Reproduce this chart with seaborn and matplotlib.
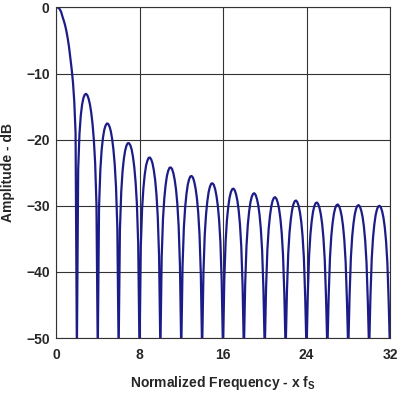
import numpy as np
import matplotlib
matplotlib.use('Agg')
import matplotlib.pyplot as plt
import seaborn as sns

# frequency grid, step 1/8 x fS
freq = np.arange(0, 32.125, 0.125)

# amplitude (dB); nulls drawn just below the axis floor
main_lobe = [0.0, 0.0, -0.05, -0.3, -0.7, -1.4, -2.0, -2.7, -3.6,
             -4.7, -6.0, -7.6, -9.3, -11.3, -14.2, -19.0, -52]
side_lobes = [
    [-24.5, -19.1, -16.3, -14.7, -13.7, -13.2, -13.06, -13.26, -13.8, -14.65, -15.9, -17.6, -20.0, -23.5, -29.7, -52],
    [-30.1, -24.5, -21.5, -19.7, -18.5, -17.85, -17.55, -17.6, -18.0, -18.7, -19.85, -21.45, -23.7, -27.15, -33.2, -52],
    [-33.6, -27.9, -24.8, -22.9, -21.65, -20.9, -20.53, -20.53, -20.85, -21.5, -22.6, -24.15, -26.4, -29.7, -35.7, -52],
    [-36.1, -30.4, -27.3, -25.3, -23.95, -23.2, -22.75, -22.7, -23.0, -23.6, -24.65, -26.1, -28.3, -31.65, -37.6, -52],
    [-37.8, -32.0, -28.9, -26.9, -25.5, -24.7, -24.25, -24.2, -24.45, -25.1, -26.1, -27.55, -29.7, -33.05, -39.0, -52],
    [-39.1, -33.3, -30.2, -28.2, -26.8, -26.0, -25.55, -25.5, -25.75, -26.4, -27.4, -28.85, -31.0, -34.35, -40.3, -52],
    [-40.2, -34.4, -31.3, -29.3, -27.9, -27.1, -26.65, -26.6, -26.85, -27.5, -28.5, -29.95, -32.1, -35.45, -41.4, -52],
    [-41.2, -35.4, -32.2, -30.2, -28.8, -27.95, -27.5, -27.4, -27.65, -28.25, -29.2, -30.65, -32.8, -36.1, -42.0, -52],
    [-41.9, -36.1, -32.9, -30.9, -29.5, -28.65, -28.2, -28.1, -28.35, -28.95, -29.9, -31.35, -33.5, -36.8, -42.7, -52],
    [-42.5, -36.7, -33.5, -31.5, -30.1, -29.25, -28.8, -28.7, -28.95, -29.55, -30.5, -31.95, -34.1, -37.4, -43.3, -52],
    [-43.0, -37.2, -34.0, -32.0, -30.6, -29.75, -29.3, -29.2, -29.45, -30.05, -31.0, -32.45, -34.6, -37.9, -43.8, -52],
    [-43.3, -37.5, -34.3, -32.3, -30.9, -30.05, -29.6, -29.5, -29.75, -30.35, -31.3, -32.75, -34.9, -38.2, -44.1, -52],
    [-43.6, -37.8, -34.6, -32.6, -31.2, -30.35, -29.9, -29.8, -30.05, -30.65, -31.6, -33.05, -35.2, -38.5, -44.4, -52],
    [-43.7, -37.9, -34.7, -32.7, -31.3, -30.45, -30.0, -29.9, -30.15, -30.75, -31.7, -33.15, -35.3, -38.6, -44.5, -52],
    [-43.8, -38.0, -34.8, -32.8, -31.4, -30.55, -30.1, -30.0, -30.25, -30.85, -31.8, -33.25, -35.4, -38.7, -44.6, -52],
]
xticks = [0, 8, 16, 24, 32]
yticks = [0, -10, -20, -30, -40, -50]

amp = main_lobe + [v for lobe in side_lobes for v in lobe]

sns.set_style('white')
plt.rcParams['font.family'] = ['Liberation Sans', 'DejaVu Sans']
plt.rcParams['mathtext.default'] = 'regular'

fig = plt.figure(figsize=(4.01, 3.99), dpi=100)
ax = fig.add_axes([56/401, 1-338/399, (390-56)/401, (338-7.5)/399])

sns.lineplot(x=freq, y=amp, ax=ax, color='#1c1c88', linewidth=1.6)

ax.set_xlim(0, 32)
ax.set_ylim(-50, 0)
ax.set_xticks(xticks)
ax.set_yticks(yticks)
ax.set_xticklabels([str(t) for t in xticks], fontweight='bold', fontsize=10)
ax.set_yticklabels([str(t).replace('-', '\u2212') for t in yticks], fontweight='bold', fontsize=10)
ax.tick_params(axis='x', length=0, pad=7)
ax.tick_params(axis='y', length=0, pad=4.5)
ax.grid(True, color='#333333', linewidth=0.8)
for s in ax.spines.values():
    s.set_color('#333333')
    s.set_linewidth(0.8)

ax.set_xlabel(r'Normalized Frequency - x f$_{S}$', fontweight='bold', fontsize=10, labelpad=9)
ax.set_ylabel('Amplitude - dB', fontweight='bold', fontsize=10, labelpad=8)

fig.savefig('out.png', dpi=100)
